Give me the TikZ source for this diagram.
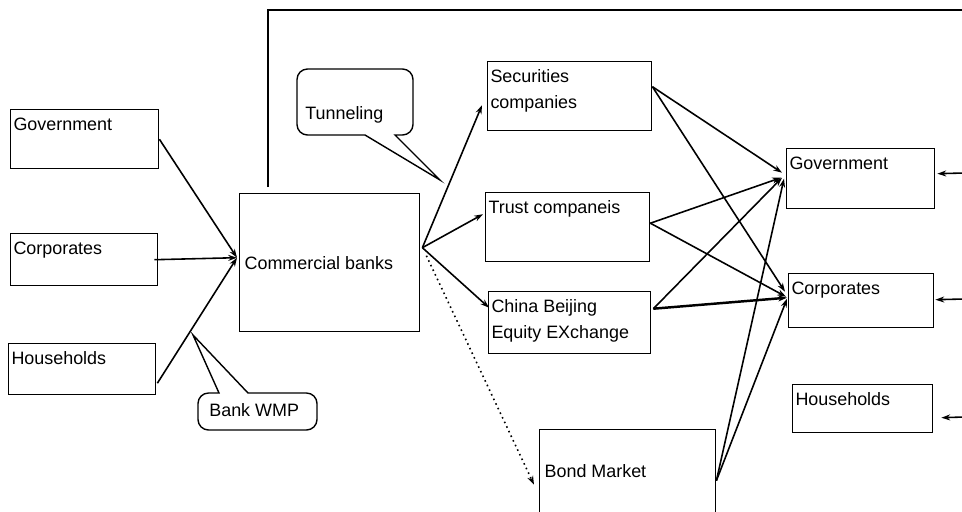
\documentclass[tikz,border=0pt]{standalone}
\usepackage{fontspec}
\setmainfont{Liberation Sans}
\usetikzlibrary{arrows.meta,calc}

\tikzset{
  box/.style={draw, line width=0.8pt, anchor=north west, inner sep=0pt},
  boxtext/.style={anchor=north west, inner xsep=1.8pt, inner ysep=4.8pt, align=left},
  midtext/.style={anchor=west, inner xsep=3pt},
  flow/.style={->, line width=0.9pt},
  bubble/.style={draw, line width=0.8pt}
}

\begin{document}
\begin{tikzpicture}[>={Stealth[length=5pt,width=3.4pt]}, x=0.02cm, y=-0.02cm,
  font=\fontsize{10.2}{14.7}\selectfont]
\useasboundingbox (0,0) rectangle (962,511);
\clip (0,0) rectangle (962,511);
% left column
\node[box, minimum width=2.96cm, minimum height=1.18cm, label={[boxtext]north west:Government}] (govL) at (10,109) {};
\node[box, minimum width=2.94cm, minimum height=1.04cm, label={[boxtext]north west:Corporates}] (corpL) at (10,233) {};
\node[box, minimum width=2.94cm, minimum height=1.02cm, label={[boxtext]north west:Households}] (hhL) at (8,343) {};
% banks
\node[box, minimum width=3.6cm, minimum height=2.76cm, label={[midtext]west:Commercial banks}] (bank) at (239,193) {};
% middle column
\node[box, minimum width=3.28cm, minimum height=1.38cm, label={[boxtext]north west:Securities\\companies}] (sec) at (487,61) {};
\node[box, minimum width=3.28cm, minimum height=1.38cm, label={[boxtext]north west:Trust companeis}] (trust) at (485,192) {};
\node[box, minimum width=3.24cm, minimum height=1.24cm, label={[boxtext]north west:China Beijing\\Equity EXchange}] (china) at (488,291) {};
\node[box, minimum width=3.52cm, minimum height=1.8cm, label={[midtext, yshift=2.3pt]west:Bond Market}] (bond) at (539,429) {};
% right column
\node[box, minimum width=2.96cm, minimum height=1.2cm, label={[boxtext]north west:Government}] (govR) at (786,148) {};
\node[box, minimum width=2.9cm, minimum height=1.08cm, label={[boxtext]north west:Corporates}] (corpR) at (788,273) {};
\node[box, minimum width=2.8cm, minimum height=0.96cm, label={[boxtext]north west:Households}] (hhR) at (792,384) {};

% into the banks
\draw[flow] (govL.east) -- ($(bank.west)+(-2,-5)$);
\draw[flow] ($(corpL.east)+(-4,0)$) -- ($(bank.west)+(-2,-5)$);
\draw[flow] ($(hhL.east)+(1,14)$) -- ($(bank.west)+(-2,-5)$);
\draw[line width=0.8pt] ($(bank.north west)+(29,-6)$) |- (964,10);

% out of the banks
\coordinate (bankout) at ($(bank.east)+(2,-15)$);
\draw[flow] (bankout) -- ($(sec.west)+(-5,9)$);
\draw[flow] (bankout) -- ($(trust.west)+(-2,-13)$);
\draw[flow] (bankout) -- ($(china.west)+(1,-15)$);
\draw[->, line width=0.9pt, dotted] ($(bank.east)+(6,-7)$) -- ($(bond.west)+(-5,10)$);

% to the right column
\draw[flow] ($(sec.east)+(0,-9.5)$) -- ($(govR.west)+(-4,-6)$);
\draw[flow] ($(sec.east)+(0,-9.5)$) -- ($(corpR.west)+(-3,-9)$);
\draw[flow] ($(trust.east)+(0,-4)$) -- ($(govR.west)+(-5,-1)$);
\draw[flow] ($(trust.east)+(0,-4)$) -- ($(corpR.west)+(-2,-4)$);
\draw[flow] ($(china.east)+(2,-14)$) -- ($(govR.west)+(-4,-1)$);
\draw[flow, line width=1.4pt] ($(china.east)+(2,-14)$) -- ($(corpR.west)+(-1,-3)$);
\draw[flow] ($(bond.east)+(0,6)$) -- ($(govR.west)+(-2,0)$);
\draw[flow] ($(bond.east)+(0,6)$) -- ($(corpR.west)+(-1,-2)$);

% from outside on the right
\draw[flow] (964,173) -- ($(govR.east)+(2,-5)$);
\draw[flow] (964,299) -- ($(corpR.east)+(1,-1)$);
\draw[flow] (964,417) -- ($(hhR.east)+(8,9)$);

% callouts
\draw[bubble] (440,180) -- (395,135) [rounded corners=6pt] -- (413,135) -- (413,69) -- (297,69) -- (297,135) [sharp corners] -- (365,135) -- cycle;
\node[anchor=west, inner sep=0pt] (tunnel) at (305,115) {Tunneling};
\draw[bubble] (193,335) -- (248,393) [rounded corners=6pt] -- (317,393) -- (317,430) -- (198,430) -- (198,393) [sharp corners] -- (219,393) -- cycle;
\node[anchor=west, inner sep=0pt] (wmp) at (209,410) {Bank WMP};
\end{tikzpicture}
\end{document}
